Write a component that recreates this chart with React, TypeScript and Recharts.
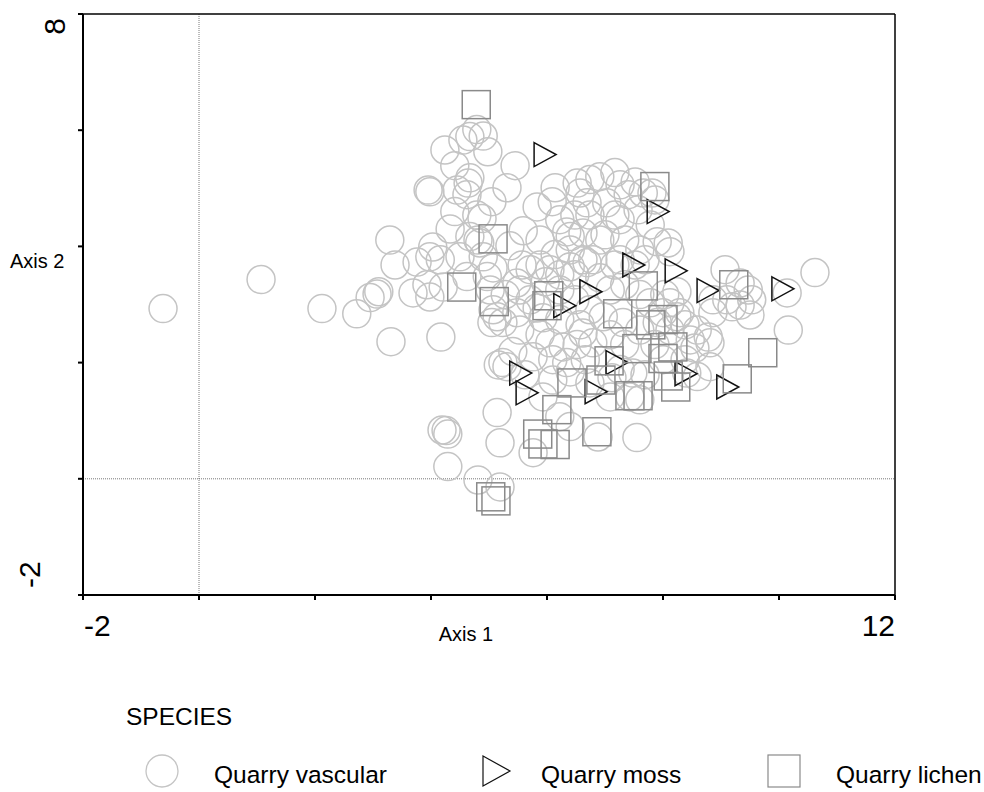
import React from 'react';
import {
  ScatterChart, Scatter, XAxis, YAxis, ReferenceLine,
} from 'recharts';

// ordination scores, [axis1, axis2]
const vascular = [
  [-0.62, 2.93], [1.07, 3.43], [2.12, 2.93], [2.72, 2.84], [2.95, 3.12], [3.07, 3.18], [3.1, 3.22],
  [3.31, 2.36], [4.17, 2.44], [3.29, 4.11], [3.38, 3.68], [3.76, 3.73], [3.69, 3.2], [3.98, 3.13],
  [3.93, 3.34], [4.21, 3.3], [4.79, 6.01], [4.9, 5.9], [4.67, 5.89], [4.55, 5.83], [4.24, 5.66],
  [4.98, 5.63], [5.45, 5.39], [4.41, 5.39], [4.67, 5.18], [4.64, 5.09], [3.95, 4.97], [3.98, 4.94],
  [4.45, 4.97], [5.31, 5.01], [5.05, 4.77], [4.62, 4.89], [4.41, 4.6], [4.79, 4.54], [4.88, 4.48],
  [4.33, 4.3], [5.59, 4.27], [5.83, 4.68], [6.14, 5.01], [6.52, 5.09], [6.09, 4.77], [6.34, 4.25],
  [6.4, 4.17], [4.03, 3.99], [3.98, 3.82], [4.16, 3.77], [4.84, 4.06], [4.81, 4.11], [4.9, 3.82],
  [5.07, 3.63], [5.36, 4.01], [5.57, 3.68], [5.88, 3.68], [4.5, 3.82], [4.62, 3.48], [4.97, 3.48],
  [6.22, 3.51], [6.4, 3.65], [6.69, 3.72], [5.48, 3.37], [4.67, 4.17], [6.91, 5.2], [7.17, 5.27],
  [7.52, 5.11], [6.57, 4.92], [7.03, 4.75], [6.69, 4.75], [7.57, 4.63], [7.81, 4.92], [7.66, 4.92],
  [7.86, 4.8], [7.0, 4.2], [6.62, 4.23], [7.6, 3.94], [7.9, 4.08], [8.09, 4.06], [8.12, 3.91],
  [6.79, 3.77], [6.62, 3.77], [7.17, 3.68], [7.69, 3.77], [6.91, 3.46], [8.24, 3.22], [8.12, 3.03],
  [8.86, 2.86], [9.07, 3.6], [9.33, 3.37], [9.47, 3.25], [9.53, 3.08], [9.5, 2.82], [9.19, 2.96],
  [9.1, 3.08], [10.14, 3.2], [10.62, 3.55], [10.16, 2.56], [8.78, 2.44], [8.59, 2.56], [8.29, 2.86],
  [7.78, 3.03], [7.26, 5.06], [7.4, 4.89], [6.74, 5.15], [6.22, 4.46], [8.86, 3.08], [9.33, 2.99],
  [8.81, 2.34], [8.81, 1.93], [8.59, 1.76], [8.41, 1.82], [6.88, 0.72], [7.55, 0.71], [7.43, 1.41],
  [7.6, 1.36], [7.09, 1.41], [6.74, 1.65], [6.79, 2.34], [6.97, 2.79], [7.31, 2.69], [7.9, 2.69],
  [8.0, 2.86], [8.24, 2.79], [8.47, 2.39], [8.0, 2.05], [7.26, 1.88], [7.48, 1.82], [6.62, 2.51],
  [5.07, 2.91], [5.05, 2.69], [5.24, 2.69], [5.14, 2.79], [5.48, 2.86], [5.93, 2.77], [5.83, 2.94],
  [5.41, 2.19], [5.24, 2.0], [5.16, 1.96], [5.31, 1.93], [5.76, 2.1], [6.05, 2.34], [6.28, 2.27],
  [6.52, 2.31], [6.1, 2.05], [6.34, 2.0], [6.1, 1.7], [5.93, 1.41], [5.14, 1.14], [4.19, 0.84],
  [4.29, 0.77], [4.26, 0.83], [5.19, 0.62], [5.76, 0.45], [4.29, 0.21], [4.81, -0.02], [5.19, -0.14],
  [6.22, 1.07], [6.4, 0.9], [5.53, 3.25], [5.71, 3.08], [5.97, 3.39], [6.22, 3.25], [6.48, 3.08],
  [6.74, 2.91], [6.57, 2.65], [6.22, 2.74], [5.88, 2.48], [5.53, 2.56], [7.09, 3.25], [7.34, 3.34],
  [7.6, 3.17], [8.03, 3.17], [7.09, 2.48], [7.34, 2.31], [7.6, 2.56], [7.86, 2.31], [8.12, 2.56],
  [8.38, 2.65], [8.55, 2.25], [8.38, 2.05], [7.69, 1.79], [7.12, 1.74], [6.66, 2.05], [6.4, 1.84],
  [5.62, 1.79], [7.26, 4.46], [6.91, 4.11], [6.4, 3.94], [6.14, 3.86], [5.88, 4.11], [7.26, 3.77],
  [7.52, 3.68], [6.48, 3.51], [6.05, 3.6], [5.71, 3.6], [5.28, 3.17], [5.02, 3.25], [7.34, 4.11],
  [7.78, 4.37], [6.74, 4.54], [7.17, 4.54], [6.48, 4.54],
];

const moss = [
  [5.95, 5.58], [7.9, 4.6], [7.48, 3.68], [8.21, 3.58], [6.74, 3.22], [8.76, 3.24], [10.05, 3.27],
  [6.29, 2.98], [7.19, 2.0], [5.53, 1.82], [8.38, 1.81], [5.64, 1.48], [6.83, 1.5], [9.1, 1.58],
];

const lichen = [
  [4.78, 6.44], [7.86, 5.03], [5.07, 4.13], [4.53, 3.3], [5.09, 3.05], [6.03, 3.15], [6.0, 2.98],
  [7.66, 3.32], [7.22, 2.84], [7.79, 2.65], [8.0, 2.74], [9.22, 3.34], [9.72, 2.17], [7.55, 2.24],
  [8.17, 2.27], [8.0, 2.07], [7.07, 2.03], [6.93, 1.7], [8.09, 1.77], [8.22, 1.58], [7.43, 1.43],
  [7.57, 1.43], [9.28, 1.72], [6.86, 0.81], [6.43, 1.65], [6.17, 1.19], [5.84, 0.77], [5.93, 0.6],
  [6.14, 0.59], [5.03, -0.31], [5.12, -0.38],
];

const xTicks = [-2, 0, 2, 4, 6, 8, 10, 12];
const yTicks = [-2, 0, 2, 4, 6, 8];
const xLabels = ['-2', '12'];
const yLabels = ['-2', '8'];

const toPoints = (arr) => arr.map(([x, y]) => ({ x, y }));

const SANS = "'Liberation Sans', Arial, sans-serif";

const CircleMark = ({ cx, cy }) => (
  <circle cx={cx} cy={cy} r={14} fill="none" stroke="#c4c4c4" strokeWidth={1.5} />
);

const SquareMark = ({ cx, cy }) => (
  <rect x={cx - 14} y={cy - 14} width={28} height={28} fill="none" stroke="#8a8a8a" strokeWidth={1.5} />
);

const TriangleMark = ({ cx, cy }) => (
  <path
    d={`M${cx - 10},${cy - 12}L${cx + 12},${cy}L${cx - 10},${cy + 12}Z`}
    fill="none"
    stroke="#111"
    strokeWidth={1.5}
  />
);

const XTick = ({ x, y, payload }) => {
  const label = String(payload.value);
  if (!xLabels.includes(label)) return null;
  const first = label === xLabels[0];
  return (
    <text
      x={first ? x + 1 : x}
      y={y + 34}
      textAnchor={first ? 'start' : 'end'}
      fontFamily={SANS}
      fontSize={30}
      fill="#000"
    >
      {label}
    </text>
  );
};

const YTick = ({ x, y, payload }) => {
  const label = String(payload.value);
  if (!yLabels.includes(label)) return null;
  const top = label === yLabels[1];
  const tx = top ? x - 11 : x - 36;
  const ty = top ? y + 4 : y - 7;
  return (
    <text
      transform={`translate(${tx},${ty}) rotate(-90)`}
      textAnchor={top ? 'end' : 'start'}
      fontFamily={SANS}
      fontSize={30}
      fill="#000"
    >
      {label}
    </text>
  );
};

const legendItems = [
  { name: 'Quarry vascular', icon: 'circle', iconX: 162, textX: 214 },
  { name: 'Quarry moss', icon: 'triangle', iconX: 496, textX: 541 },
  { name: 'Quarry lichen', icon: 'square', iconX: 784, textX: 836 },
];

const LegendIcon = ({ icon, cx, cy }) => {
  if (icon === 'circle') return <circle cx={cx} cy={cy} r={16} fill="none" stroke="#c4c4c4" strokeWidth={1.3} />;
  if (icon === 'triangle') {
    return <path d={`M${cx - 13},${cy - 15}L${cx + 14},${cy}L${cx - 13},${cy + 15}Z`} fill="none" stroke="#111" strokeWidth={1.2} />;
  }
  return <rect x={cx - 16} y={cy - 16} width={32} height={32} fill="none" stroke="#8a8a8a" strokeWidth={1.2} />;
};

export default function App() {
  return (
    <div style={{ position: 'absolute', left: 0, top: 0, width: 984, height: 792, background: '#fff' }}>
      <ScatterChart width={984} height={792} margin={{ top: 14, right: 89, left: 0, bottom: 0 }}>
        <XAxis
          type="number"
          dataKey="x"
          domain={[-2, 12]}
          ticks={xTicks}
          allowDataOverflow
          height={197}
          stroke="#000"
          strokeWidth={2}
          tickSize={5}
          tick={<XTick />}
          label={{
            content: ({ viewBox }) => (
              <text x={viewBox.x + 383} y={viewBox.y + 46} textAnchor="middle" fontFamily={SANS} fontSize={20} fill="#000">
                Axis 1
              </text>
            ),
          }}
        />
        <YAxis
          type="number"
          dataKey="y"
          domain={[-2, 8]}
          ticks={yTicks}
          allowDataOverflow
          width={83}
          stroke="#000"
          strokeWidth={2}
          tickSize={5}
          tick={<YTick />}
          label={{
            content: ({ viewBox }) => (
              <text x={viewBox.x + 10} y={viewBox.y + 254} textAnchor="start" fontFamily={SANS} fontSize={20} fill="#000">
                Axis 2
              </text>
            ),
          }}
        />
        <ReferenceLine x={0} stroke="#555" strokeWidth={0.8} strokeDasharray="1 1" />
        <ReferenceLine y={0} stroke="#555" strokeWidth={0.8} strokeDasharray="1 1" />
        <ReferenceLine x={12} stroke="#000" strokeWidth={1.5} />
        <ReferenceLine y={8} stroke="#000" strokeWidth={1.5} />
        <Scatter name="Quarry vascular" data={toPoints(vascular)} shape={CircleMark} isAnimationActive={false} />
        <Scatter name="Quarry moss" data={toPoints(moss)} shape={TriangleMark} isAnimationActive={false} />
        <Scatter name="Quarry lichen" data={toPoints(lichen)} shape={SquareMark} isAnimationActive={false} />
      </ScatterChart>

      {/* legend block under the plot */}
      <svg width={984} height={110} style={{ position: 'absolute', left: 0, top: 682 }}>
        <text x={126} y={43} fontFamily={SANS} fontSize={24.5} fill="#000">SPECIES</text>
        {legendItems.map((item) => (
          <g key={item.name}>
            <LegendIcon icon={item.icon} cx={item.iconX} cy={89} />
            <text x={item.textX} y={101} fontFamily={SANS} fontSize={24.5} fill="#000">{item.name}</text>
          </g>
        ))}
      </svg>
    </div>
  );
}
